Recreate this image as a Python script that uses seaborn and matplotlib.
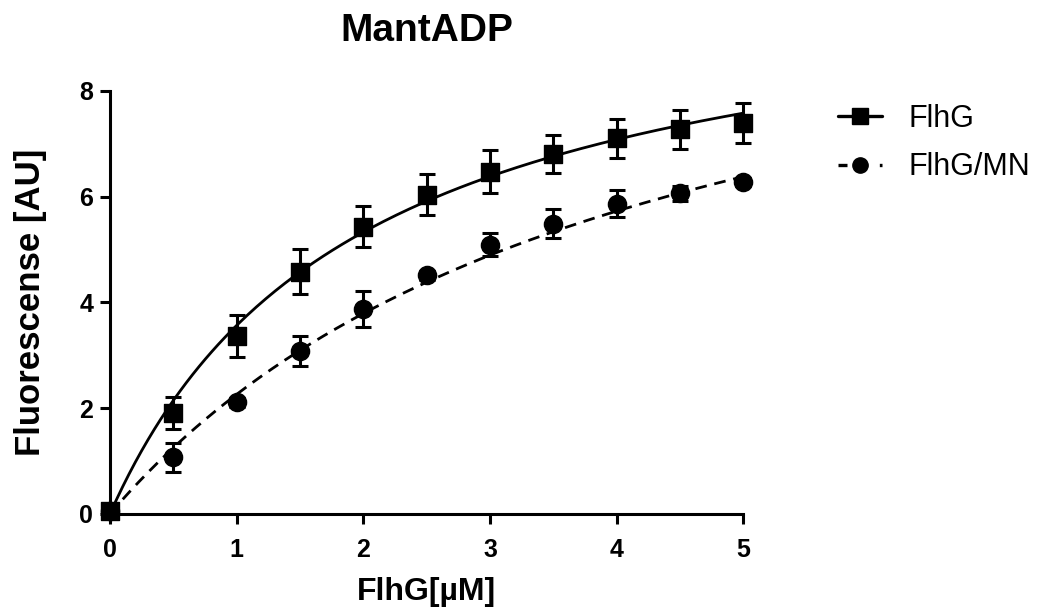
import numpy as np
import pandas as pd
import matplotlib
matplotlib.use("Agg")
import matplotlib.pyplot as plt
from matplotlib.lines import Line2D
import seaborn as sns

# concentrations (uM)
conc = [0, 0.5, 1, 1.5, 2, 2.5, 3, 3.5, 4, 4.5, 5]

# FlhG, mean and SD
flhg_mean = [0.06, 1.91, 3.36, 4.58, 5.43, 6.04, 6.47, 6.81, 7.10, 7.27, 7.40]
flhg_err = [0.08, 0.31, 0.40, 0.43, 0.39, 0.39, 0.41, 0.36, 0.36, 0.36, 0.38]

# FlhG/MN
mn_mean = [0.06, 1.07, 2.11, 3.08, 3.88, 4.51, 5.09, 5.49, 5.87, 6.06, 6.28]
mn_err = [0.08, 0.28, 0.08, 0.29, 0.34, 0.08, 0.22, 0.27, 0.25, 0.15, 0.08]

# one-site binding fit parameters (Bmax, Kd)
bmax_flhg, kd_flhg = 10.55, 1.96
bmax_mn, kd_mn = 11.71, 4.18

sns.set_theme(style="ticks")
plt.rcParams["font.family"] = ["Liberation Sans", "DejaVu Sans"]
plt.rcParams.update({"text.color": "black", "axes.labelcolor": "black",
                     "xtick.color": "black", "ytick.color": "black"})

fig = plt.figure(figsize=(10.47, 6.14), dpi=100)
ax = fig.add_axes([0.105, 0.163, 0.605, 0.689])

x_fit = np.linspace(0, 5, 200)
fit_df = pd.DataFrame({
    "x": np.concatenate([x_fit, x_fit]),
    "y": np.concatenate([bmax_flhg * x_fit / (kd_flhg + x_fit),
                         bmax_mn * x_fit / (kd_mn + x_fit)]),
    "series": ["FlhG"] * len(x_fit) + ["FlhG/MN"] * len(x_fit),
})
sns.lineplot(data=fit_df[fit_df.series == "FlhG"], x="x", y="y", color="black",
             lw=2.0, ax=ax, clip_on=False)
sns.lineplot(data=fit_df[fit_df.series == "FlhG/MN"], x="x", y="y", color="black",
             lw=2.0, ax=ax, clip_on=False)
ax.lines[1].set_linestyle((0, (4.2, 2.8)))

ax.errorbar(conc, flhg_mean, yerr=flhg_err, fmt="none", ecolor="black",
            elinewidth=2.2, capsize=6, capthick=2.2, clip_on=False)
ax.errorbar(conc, mn_mean, yerr=mn_err, fmt="none", ecolor="black",
            elinewidth=2.2, capsize=6, capthick=2.2, clip_on=False)
sns.scatterplot(x=conc, y=flhg_mean, marker="s", s=150, color="black",
                edgecolor="black", ax=ax, clip_on=False, zorder=5)
sns.scatterplot(x=conc, y=mn_mean, marker="o", s=170, color="black",
                edgecolor="black", ax=ax, clip_on=False, zorder=5)

ax.set_xlim(0, 5)
ax.set_ylim(0, 8)
ax.set_xticks([0, 1, 2, 3, 4, 5])
ax.set_yticks([0, 2, 4, 6, 8])
sns.despine(ax=ax)
for side in ["left", "bottom"]:
    ax.spines[side].set_linewidth(2.2)
    ax.spines[side].set_color("black")
ax.tick_params(axis="both", length=7, width=2.2, labelsize=18)
ax.tick_params(axis="x", pad=10)
ax.tick_params(axis="y", pad=5)
for lab in ax.get_xticklabels() + ax.get_yticklabels():
    lab.set_fontweight("bold")

ax.set_title("MantADP", fontsize=28, fontweight="bold", pad=36)
ax.set_xlabel("FlhG[µM]", fontsize=23, fontweight="bold", labelpad=11)
ax.set_ylabel("Fluorescense [AU]", fontsize=25, fontweight="bold", labelpad=23)

handles = [
    Line2D([], [], color="black", lw=2.4, marker="s", markersize=11),
    Line2D([], [], color="black", lw=2.4, ls=(0, (2.7, 3.5)), marker="o",
           markersize=11),
]
fig.legend(handles, ["FlhG", "FlhG/MN"], loc="upper left",
           bbox_to_anchor=(838 / 1047, 1 - 104 / 614), frameon=False,
           fontsize=22, handlelength=1.45, handletextpad=0.85,
           labelspacing=0.6, borderpad=0, borderaxespad=0)

fig.savefig("out.png", dpi=100)
